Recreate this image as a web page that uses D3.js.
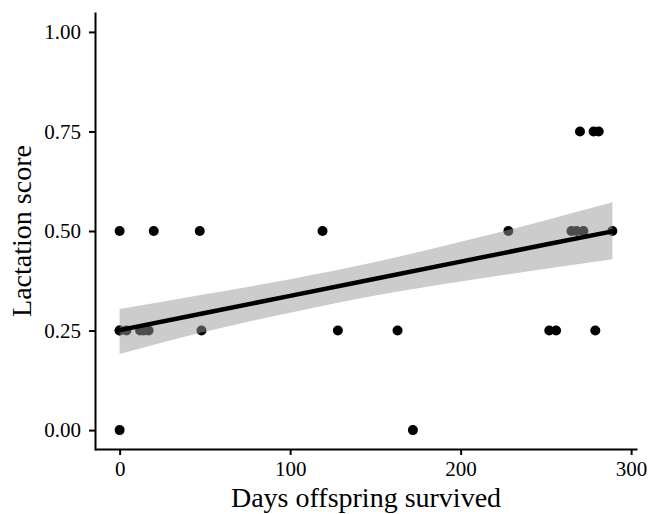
<!DOCTYPE html>
<meta charset="utf-8">
<style>
    body {
        margin: 0;
        background: #fff;
    }

    text {
        font-family: "Liberation Serif", "Times New Roman", serif;
        fill: #000;
    }

    .axis path,
    .axis line {
        stroke: #000;
        stroke-width: 2px;
    }

    .axis text {
        font-size: 21px !important;
    }

    .title {
        font-size: 28px;
    }
</style>

<body>
    <svg width="649" height="514"></svg>
</body>

<script src="https://d3js.org/d3.v7.min.js"></script>
<script>

    // days the offspring survived and the lactation score of the mother
    var days = [0, 20, 47, 119, 228, 265, 268, 272, 289,
        0, 0, 4, 12, 14, 17, 48, 128, 163, 252, 256, 279,
        270, 278, 281,
        0, 172];
    var score = [0.5, 0.5, 0.5, 0.5, 0.5, 0.5, 0.5, 0.5, 0.5,
        0.25, 0.25, 0.25, 0.25, 0.25, 0.25, 0.25, 0.25, 0.25, 0.25, 0.25, 0.25,
        0.75, 0.75, 0.75,
        0, 0];

    // fitted line with its confidence band
    var fitDays = [0, 50, 100, 150, 200, 250, 289];
    var fitValue = [0.251, 0.294, 0.337, 0.380, 0.423, 0.466, 0.499];
    var fitLower = [0.191, 0.247, 0.295, 0.338, 0.373, 0.405, 0.429];
    var fitUpper = [0.304, 0.341, 0.379, 0.422, 0.473, 0.527, 0.572];

    var xTicks = [0, 100, 200, 300];
    var yTicks = [0, 0.25, 0.5, 0.75, 1];

    var svg = d3.select("svg"),
        panelLeft = 95, panelRight = 637, panelTop = 12, panelBottom = 450;

    var x = d3.scaleLinear()
        .domain([-14.45, 303.45])
        .range([panelLeft, panelRight]);

    var y = d3.scaleLinear()
        .domain([-0.05, 1.05])
        .range([panelBottom, panelTop]);

    // points first, the band goes on top of them like in ggplot
    svg.append("g")
        .selectAll("circle")
        .data(days)
        .enter().append("circle")
        .attr("cx", function (d) { return x(d); })
        .attr("cy", function (d, i) { return y(score[i]); })
        .attr("r", 5)
        .attr("fill", "#000");

    var band = d3.area()
        .x(function (d) { return x(d); })
        .y0(function (d, i) { return y(fitLower[i]); })
        .y1(function (d, i) { return y(fitUpper[i]); })
        .curve(d3.curveMonotoneX);

    svg.append("path")
        .datum(fitDays)
        .attr("d", band)
        .attr("fill", "#999")
        .attr("fill-opacity", 0.5);

    var line = d3.line()
        .x(function (d) { return x(d); })
        .y(function (d, i) { return y(fitValue[i]); });

    svg.append("path")
        .datum(fitDays)
        .attr("d", line)
        .attr("fill", "none")
        .attr("stroke", "#000")
        .attr("stroke-width", 4.5);

    var yAxis = svg.append("g")
        .attr("class", "axis")
        .attr("transform", "translate(" + panelLeft + ",0)")
        .call(d3.axisLeft(y)
            .tickValues(yTicks)
            .tickFormat(d3.format(".2f"))
            .tickSizeInner(6)
            .tickSizeOuter(0)
            .tickPadding(8));

    var xAxis = svg.append("g")
        .attr("class", "axis")
        .attr("transform", "translate(0," + (panelBottom - 1) + ")")
        .call(d3.axisBottom(x)
            .tickValues(xTicks)
            .tickFormat(d3.format("d"))
            .tickSizeInner(6)
            .tickSizeOuter(0)
            .tickPadding(6));

    svg.selectAll(".axis")
        .attr("font-family", null)
        .attr("font-size", 21);
    svg.selectAll(".axis text")
        .attr("fill", "#000")
        .attr("font-size", 21);

    svg.append("text")
        .attr("class", "title")
        .attr("x", (panelLeft + panelRight) / 2)
        .attr("y", 507)
        .attr("text-anchor", "middle")
        .text("Days offspring survived");

    svg.append("text")
        .attr("class", "title")
        .attr("transform", "translate(31," + (panelTop + panelBottom) / 2 + ") rotate(-90)")
        .attr("text-anchor", "middle")
        .text("Lactation score");
</script>
